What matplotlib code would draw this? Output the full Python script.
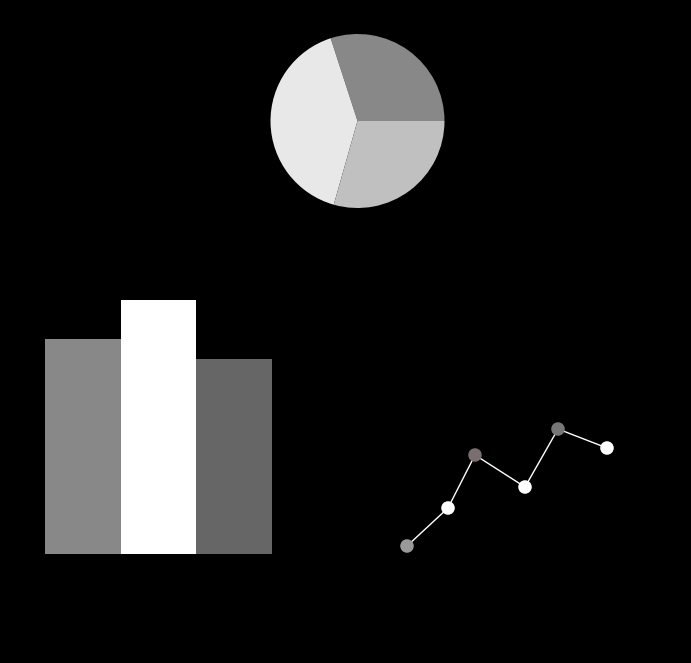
import matplotlib
matplotlib.use("Agg")
import matplotlib.pyplot as plt

W, H = 691, 663

# Pie data
pie_values = [30, 40.6, 29.4]
pie_colors = ["#888888", "#e8e8e8", "#c0c0c0"]

# Bar data
bar_categories = ["A", "B", "C"]
bar_values = [11, 13, 10]
bar_colors = ["#888888", "#ffffff", "#666666"]

# Line data
line_x = [0, 2.05, 3.4, 5.9, 7.55, 10]
line_y = [1.0, 4.8, 10.1, 6.9, 12.7, 10.8]
marker_colors = ["#999999", "#ffffff", "#7a6e6e", "#ffffff", "#777777", "#ffffff"]

fig = plt.figure(figsize=(W / 100, H / 100), dpi=100, facecolor="black")


def rect(x0, y0, x1, y1):
    return [x0 / W, (H - y1) / H, (x1 - x0) / W, (y1 - y0) / H]


# Pie
ax_pie = fig.add_axes(rect(357.5 - 87, 121 - 87.5, 357.5 + 87, 121 + 87.5))
ax_pie.pie(pie_values, colors=pie_colors, startangle=0, counterclock=True,
           wedgeprops=dict(linewidth=0))
ax_pie.set_xlim(-1, 1)
ax_pie.set_ylim(-1, 1)
ax_pie.axis("off")

# Bars
ax_bar = fig.add_axes(rect(45, 300, 272, 554))
ax_bar.bar(range(len(bar_values)), bar_values, width=1.0, color=bar_colors, linewidth=0)
ax_bar.set_xlim(-0.5, 2.5)
ax_bar.set_ylim(0, 13)
ax_bar.axis("off")

# Line
ax_line = fig.add_axes(rect(407, 301, 607, 556))
ax_line.plot(line_x, line_y, color="white", linewidth=1.0, zorder=1, clip_on=False)
ax_line.scatter(line_x, line_y, s=95, c=marker_colors, zorder=2, clip_on=False, linewidths=0)
ax_line.set_xlim(0, 10)
ax_line.set_ylim(0, 25.5)
ax_line.axis("off")

fig.savefig("out.png", dpi=100, facecolor="black")
